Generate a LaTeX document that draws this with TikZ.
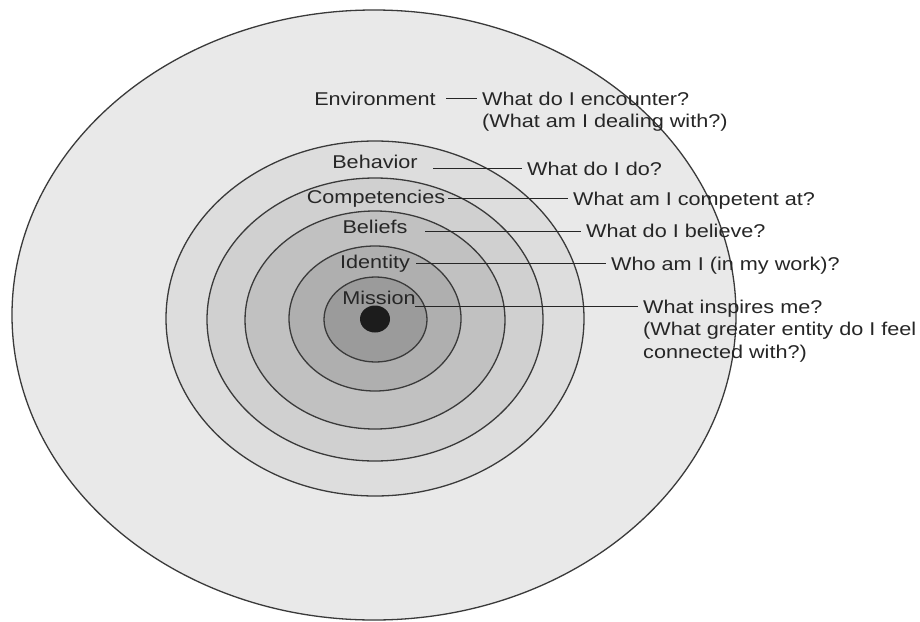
\documentclass[tikz,border=0pt]{standalone}
\usepackage{fontspec}
\setmainfont[FakeStretch=1.17]{Liberation Sans}
\definecolor{ringline}{HTML}{3A3A3A}
\definecolor{txt}{HTML}{262626}
\definecolor{envfill}{HTML}{E9E9E9}
\definecolor{behfill}{HTML}{DDDDDD}
\definecolor{compfill}{HTML}{D0D0D0}
\definecolor{belfill}{HTML}{C1C1C1}
\definecolor{idfill}{HTML}{AFAFAF}
\definecolor{missfill}{HTML}{9B9B9B}
\definecolor{core}{HTML}{1C1C1C}
\begin{document}
\begin{tikzpicture}[x=1pt,y=-1pt,
  every node/.style={font=\fontsize{18.5}{22.5}\selectfont},
  ring/.style={draw=ringline,line width=1.3pt},
  lbl/.style={anchor=base,inner sep=0pt,text=txt},
  ans/.style={anchor=base west,inner sep=0pt,text=txt},
  longans/.style={anchor=north west,inner sep=0pt,text=txt,align=left},
  leader/.style={draw=txt,line width=1pt,shorten >=5pt}]
\fill[white] (0,0) rectangle (920,621);
\useasboundingbox (0,0) rectangle (920,621);
% nested levels, outside in
\filldraw[ring,fill=envfill] (374,315) ellipse [x radius=362, y radius=305];
\filldraw[ring,fill=behfill] (375,318.5) ellipse [x radius=209, y radius=177.5];
\filldraw[ring,fill=compfill] (375,319.5) ellipse [x radius=168, y radius=141.5];
\filldraw[ring,fill=belfill] (375,320) ellipse [x radius=130, y radius=109];
\filldraw[ring,fill=idfill] (375,318.5) ellipse [x radius=86, y radius=72.5];
\filldraw[ring,fill=missfill] (375.5,319.5) ellipse [x radius=51.5, y radius=42.5];
\fill[core] (375,319) ellipse [x radius=15, y radius=13.5];
% level names
\node[lbl] (env) at (375,105) {Environment};
\node[lbl] (beh) at (375,168) {Behavior};
\node[lbl] (comp) at (376,203) {Competencies};
\node[lbl] (bel) at (375,233) {Beliefs};
\node[lbl] (ident) at (375,268) {Identity};
\node[lbl] (miss) at (379,304) {Mission};
% questions
\node[longans] (env-q) at (482,91.5) {What do I encounter?\\(What am I dealing with?)};
\node[ans] (beh-q) at (527,175) {What do I do?};
\node[ans] (comp-q) at (573,205) {What am I competent at?};
\node[ans] (bel-q) at (586,237.5) {What do I believe?};
\node[ans] (ident-q) at (611,270) {Who am I (in my work)?};
\node[longans] (miss-q) at (643,299.5) {What inspires me?\\(What greater entity do I feel\\connected with?)};
% leaders
\coordinate (env-l) at (446,98);
\coordinate (beh-l) at (433,168.5);
\coordinate (comp-l) at (448,198.5);
\coordinate (bel-l) at (425,231);
\coordinate (ident-l) at (416,263.5);
\coordinate (miss-l) at (415,306.5);
\draw[leader] (env-l) -- (env-l -| env-q.west);
\draw[leader] (beh-l) -- (beh-l -| beh-q.west);
\draw[leader] (comp-l) -- (comp-l -| comp-q.west);
\draw[leader] (bel-l) -- (bel-l -| bel-q.west);
\draw[leader] (ident-l) -- (ident-l -| ident-q.west);
\draw[leader] (miss-l) -- (miss-l -| miss-q.west);
\end{tikzpicture}
\end{document}
